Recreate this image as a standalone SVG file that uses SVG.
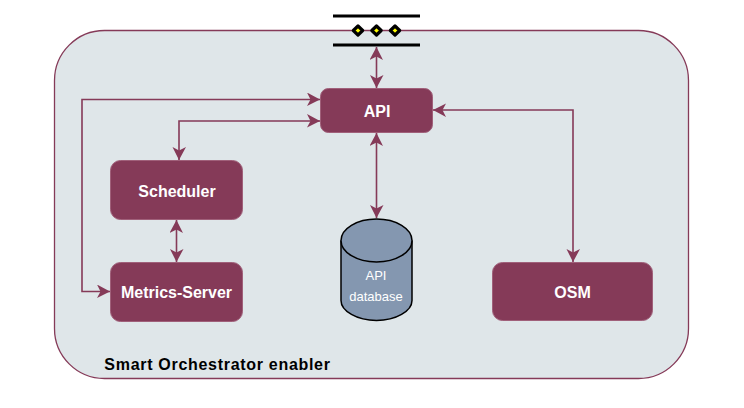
<svg xmlns="http://www.w3.org/2000/svg" width="744" height="408" viewBox="0 0 744 408">
<style>
text{font-family:"Liberation Sans",Arial,sans-serif;text-anchor:middle}
.n{fill:#853a58;stroke:#a0607a;stroke-width:1}
.t{fill:#fff;font-weight:bold;font-size:16px}
.c{fill:none;stroke:#853a58;stroke-width:1.600}
.d{fill:#ffff00;stroke:#000;stroke-width:3.200;stroke-linejoin:round}
</style>
<defs>
<marker id="a" viewBox="0 0 14 14" refX="13" refY="7" markerWidth="14" markerHeight="14" orient="auto-start-reverse" markerUnits="userSpaceOnUse"><path d="M0 0L13 7L0 13.500L3.500 7Z" fill="#853a58"/></marker>
</defs>
<rect width="744" height="408" fill="#fff"/>
<g id="enabler"><rect x="54.500" y="30.500" width="634" height="348" rx="50" ry="50" fill="#dfe6e9" stroke="#853a58" stroke-width="1.300"/><text x="217.500" y="370" style="font-weight:bold;font-size:16px;letter-spacing:.7px" fill="#000">Smart Orchestrator enabler</text></g>
<g id="interface"><path d="M333 16H420M333 45H420" stroke="#000" stroke-width="3" fill="none"/><path class="d" d="M358 26L362.700 30.500L358 35L353.300 30.500Z"/><path class="d" d="M376.500 26L381.200 30.500L376.500 35L371.800 30.500Z"/><path class="d" d="M395 26L399.700 30.500L395 35L390.300 30.500Z"/></g>
<g id="connectors">
<path class="c" d="M376.500 47V88" marker-start="url(#a)" marker-end="url(#a)"/>
<path class="c" d="M376.500 133V218" marker-start="url(#a)" marker-end="url(#a)"/>
<path class="c" d="M320 99.500H82V291.500H110" marker-start="url(#a)" marker-end="url(#a)"/>
<path class="c" d="M320 121H179V160" marker-start="url(#a)" marker-end="url(#a)"/>
<path class="c" d="M176.500 220V262" marker-start="url(#a)" marker-end="url(#a)"/>
<path class="c" d="M433 110H573V262" marker-start="url(#a)" marker-end="url(#a)"/>
</g>
<g id="api"><rect class="n" x="320.500" y="88.500" width="112" height="44" rx="8"/><text class="t" x="377" y="117">API</text></g>
<g id="scheduler"><rect class="n" x="110.500" y="160.500" width="132" height="59" rx="10"/><text class="t" x="177" y="197">Scheduler</text></g>
<g id="metrics-server"><rect class="n" x="110.500" y="262.500" width="132" height="59" rx="10"/><text class="t" x="176.500" y="298">Metrics-Server</text></g>
<g id="osm"><rect class="n" x="492.500" y="262.500" width="160" height="58" rx="10"/><text class="t" x="572.500" y="298">OSM</text></g>
<g id="database"><path d="M341 240.500V300.500C341 311 357 320.500 376.500 320.500C396 320.500 412 311 412 300.500V240.500" fill="#8497b0" stroke="#000" stroke-width="1.500"/><ellipse cx="376.500" cy="240.500" rx="35.500" ry="21.500" fill="#8497b0" stroke="#000" stroke-width="1.500"/><text x="376" y="280" fill="#fff" font-size="13px">API</text><text x="376" y="301" fill="#fff" font-size="13px">database</text></g>
</svg>
